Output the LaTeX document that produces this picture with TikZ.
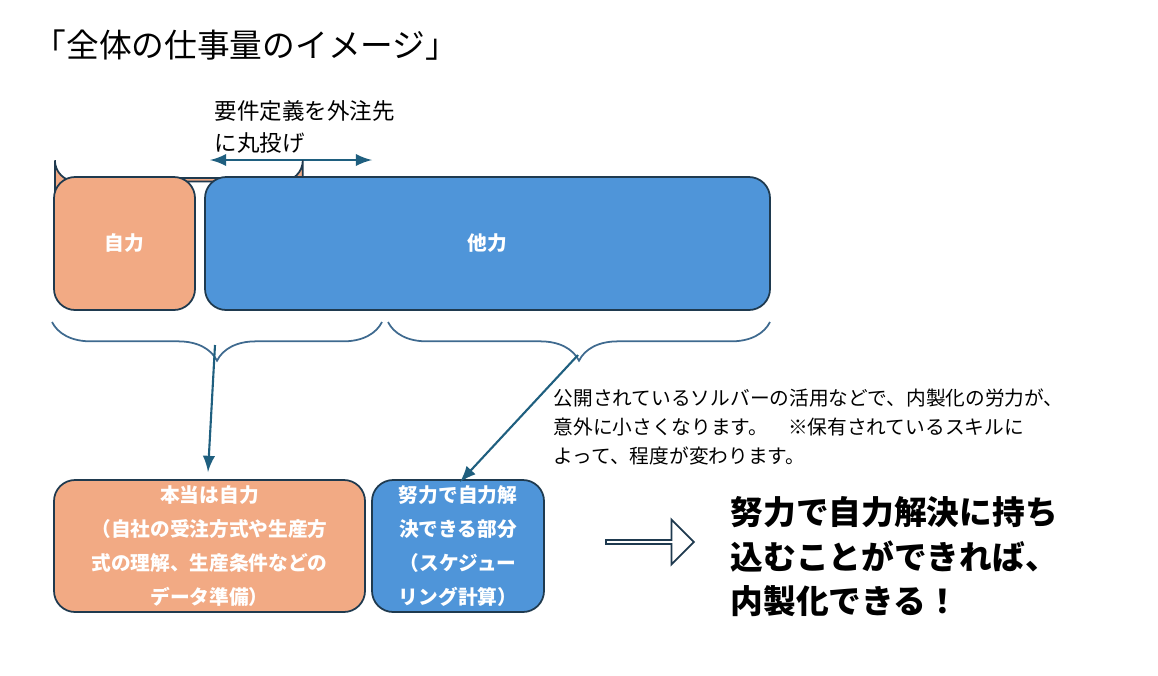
\documentclass[tikz,border=0pt]{standalone}
\usepackage{fontspec}
\setmainfont{Noto Sans CJK JP}
\usetikzlibrary{decorations.pathreplacing,shapes.arrows}
\definecolor{orng}{HTML}{F2AA84}
\definecolor{blu}{HTML}{4F95D9}
\definecolor{edge}{HTML}{1F3A4F}
\definecolor{arr}{HTML}{1F5F7F}
\definecolor{brc}{HTML}{3F6A8F}
\begin{document}
\begin{tikzpicture}[x=0.01cm,y=-0.01cm,
  box/.style={draw=edge,line width=0.5pt,rounded corners=6pt,text=white,font=\fontsize{5.6}{8}\selectfont\bfseries,align=center,inner sep=0pt},
  lab/.style={font=\fontsize{5.6}{8.2}\selectfont,align=left,anchor=north west,inner sep=0pt},
  con/.style={draw=arr,line width=0.6pt,-latex},
  br/.style={draw=brc,line width=0.5pt,decorate,decoration={brace,amplitude=11pt,mirror}}]
\useasboundingbox (0,0) rectangle (1158,675);
\node[anchor=west,inner sep=0pt,font=\fontsize{9.3}{11}\selectfont] (title) at (33,45) {「全体の仕事量のイメージ」};
\node[lab,font=\fontsize{6.4}{9}\selectfont] (lbl) at (214,100) {要件定義を外注先\\に丸投げ};
\coordinate (a1) at (210,160); \coordinate (a2) at (372,160);
\draw[draw=arr,line width=0.6pt,latex-latex] (a1) -- (a2);
\node[box,fill=orng,minimum width=141\pgflinewidth,anchor=north west] (jiriki) at (54,177) {};
\path[box,fill=orng] (54,177) rectangle (195,310);
\path[box,fill=blu] (205,177) rectangle (770,310);
\node[box,draw=none] (j) at (124.5,243) {自力};
\node[box,draw=none] (t) at (487.5,243) {他力};
\coordinate (b1) at (52,322); \coordinate (b2) at (382,322);
\coordinate (b3) at (388,322); \coordinate (b4) at (770,322);
\draw[br] (b1) -- (b2) coordinate[midway,yshift=-22pt] (bt1);
\draw[br] (b3) -- (b4);
\coordinate (s1) at (215,345); \coordinate (s2) at (578,355);
\path[box,fill=orng] (54,480) rectangle (365,612);
\path[box,fill=blu] (372,480) rectangle (544,612);
\node[box,draw=none,font=\fontsize{5.6}{9.6}\selectfont\bfseries] (h) at (209.5,546) {本当は自力\\（自社の受注方式や生産方\\式の理解、生産条件などの\\データ準備）};
\node[box,draw=none,font=\fontsize{5.6}{9.6}\selectfont\bfseries] (d) at (458,546) {努力で自力解\\決できる部分\\（スケジュー\\リング計算）};
\coordinate (e1) at (208,472); \coordinate (e2) at (460,482);
\draw[con] (s1) -- (e1);
\draw[con] (s2) -- (e2);
\node[lab] (p) at (553,388) {公開されているソルバーの活用などで、内製化の労力が、\\意外に小さくなります。\quad ※保有されているスキルに\\よって、程度が変わります。};
\node[single arrow,draw=edge,fill=white,line width=0.5pt,minimum width=45\pgflinewidth,single arrow head extend=0pt,inner sep=0pt,minimum height=88*0.01cm,minimum width=45*0.01cm,single arrow head extend=0.09cm,anchor=west] (ha) at (605,542) {};
\node[lab,font=\fontsize{9.3}{12.6}\selectfont\bfseries] (r) at (730,496) {努力で自力解決に持ち\\込むことができれば、\\内製化できる！};
\end{tikzpicture}
\end{document}
